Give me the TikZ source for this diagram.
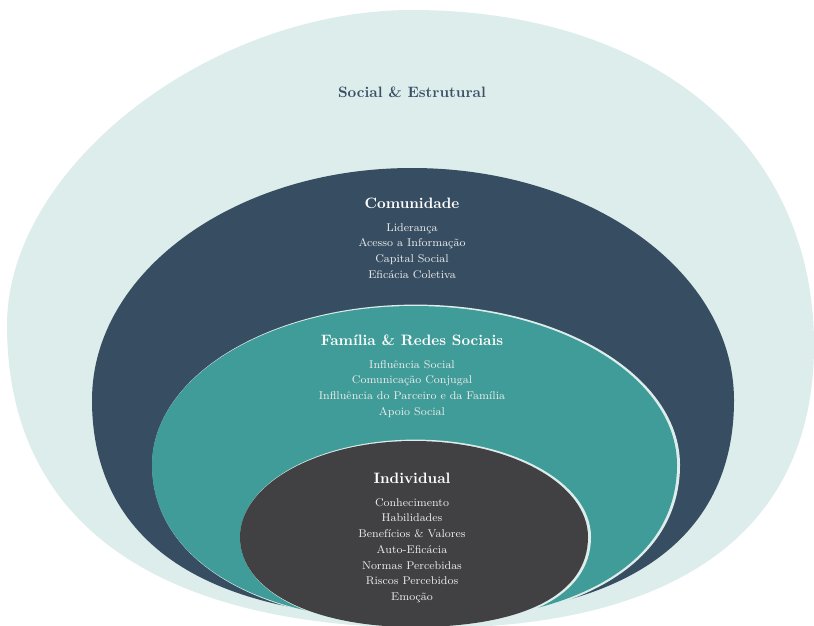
\documentclass[tikz,border=0pt]{standalone}
\usepackage{fontspec}
\usepackage{tikz}

\definecolor{estrutural}{HTML}{DDEDEB}
\definecolor{comunidade}{HTML}{374E62}
\definecolor{familia}{HTML}{3F9C98}
\definecolor{individual}{HTML}{414042}
\definecolor{titulo}{HTML}{3B5066}

\newcommand\anelsocial{(7,325) .. controls (7,167.5) and (209.5,10) .. (412,10)
  .. controls (653,10) and (814,144) .. (814,345)
  .. controls (814,529) and (680,628) .. (430,628)
  .. controls (155,628) and (7,522) .. (7,325) -- cycle}
\newcommand\anelcomunidade{(92,400) .. controls (92,272) and (235,168) .. (412,168)
  .. controls (590,168) and (734,272) .. (734,400)
  .. controls (734,542) and (622,618) .. (415,618)
  .. controls (205,618) and (92,542) .. (92,400) -- cycle}
\newcommand\anelfamilia{(152,465) .. controls (152,377) and (269,306) .. (414,306)
  .. controls (559,306) and (677,377) .. (677,465)
  .. controls (677,562) and (577,622) .. (414,622)
  .. controls (257,622) and (152,559) .. (152,465) -- cycle}
\newcommand\anelindividual{(240,537) .. controls (240,484) and (318,441) .. (414,441)
  .. controls (510,441) and (588,484) .. (588,537)
  .. controls (588,595) and (522,627) .. (414,627)
  .. controls (313,627) and (240,591) .. (240,537) -- cycle}

\begin{document}
\begin{tikzpicture}[x=0.025cm,y=-0.025cm,
    rim/.style={fill=estrutural,draw=estrutural,line width=2pt,xshift=0.4mm},
    nivel/.style={font=\fontsize{10.7}{12}\selectfont\bfseries,text=white,inner sep=0pt},
    itens/.style={font=\fontsize{8}{11.2}\selectfont,text=white!93!black,align=center,inner sep=0pt,anchor=north}]
\useasboundingbox (0,0) rectangle (814,625);
\clip (0,0) rectangle (814,625);
\fill[estrutural] \anelsocial;
\fill[comunidade] \anelcomunidade;
\filldraw[rim] \anelfamilia;
\fill[familia] \anelfamilia;
\filldraw[rim] \anelindividual;
\fill[individual] \anelindividual;

\node[nivel,text=titulo] (social) at (412,92) {Social \& Estrutural};

\node[nivel] (comun) at (412,203) {Comunidade};
\node[itens] (comunitens) at (412,223) {Liderança\\Acesso a Informação\\Capital Social\\Eficácia Coletiva};

\node[nivel] (famil) at (412,340) {Família \& Redes Sociais};
\node[itens] (familitens) at (412,360) {Influência Social\\Comunicação Conjugal\\Inflluência do Parceiro e da Família\\Apoio Social};

\node[nivel] (indiv) at (412,478) {Individual};
\node[itens] (indivitens) at (412,498) {Conhecimento\\Habilidades\\Benefícios \& Valores\\Auto-Eficácia\\Normas Percebidas\\Riscos Percebidos\\Emoção};
\end{tikzpicture}
\end{document}
